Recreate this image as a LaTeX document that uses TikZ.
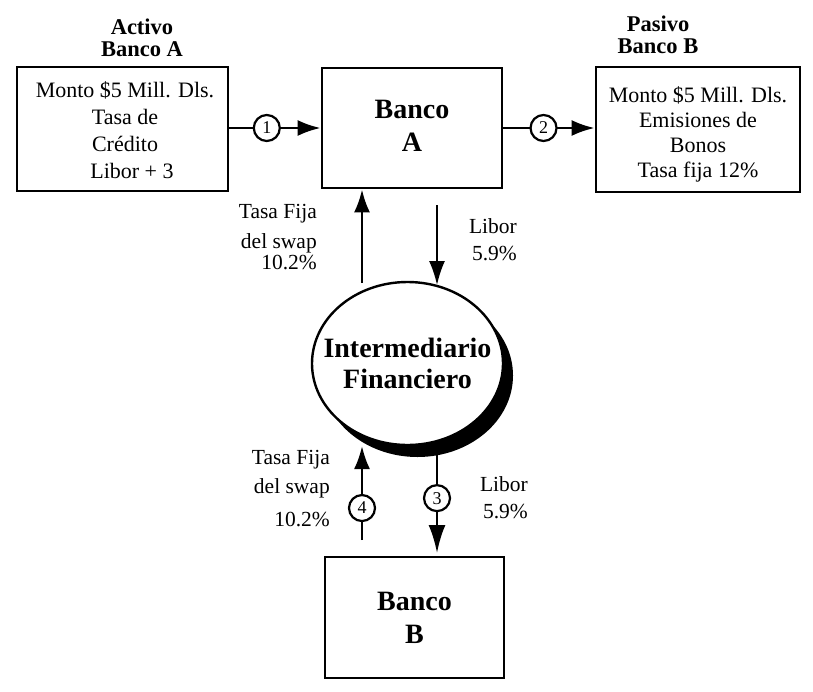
\documentclass[tikz,border=0pt]{standalone}
\usepackage{fontspec}
\setmainfont{Liberation Serif}
\usetikzlibrary{arrows.meta,shapes.geometric}
\begin{document}
\begin{tikzpicture}[x=1pt,y=-1pt,
 box/.style={draw,line width=2.8pt,inner sep=0pt},
 num/.style={draw,circle,line width=2.2pt,fill=white,inner sep=0pt,minimum size=26pt,font=\fontsize{18}{18}\selectfont},
 flow/.style={line width=2.6pt,-{Latex[length=23pt,width=16pt]}},
 longflow/.style={line width=2.6pt,-{Latex[length=28pt,width=17pt]}},
 thinflow/.style={line width=1.8pt,-{Latex[length=24pt,width=16pt]}},
 txt/.style={font=\fontsize{22}{27}\selectfont,align=center,inner sep=0pt},
 ttl/.style={font=\bfseries\fontsize{22.5}{22}\selectfont,align=center,inner sep=0pt},
 big/.style={font=\bfseries\fontsize{28}{33}\selectfont,align=center,inner sep=0pt},
 lbl/.style={font=\fontsize{21.5}{27}\selectfont,align=right,inner sep=0pt}]
\useasboundingbox (0,0) rectangle (813,691);

% titles
\node[ttl] (tA) at (142,37.5) {Activo\\Banco A};
\node[ttl] (tB) at (658,34.5) {Pasivo\\Banco B};

% boxes
\node[box,minimum width=211pt,minimum height=124pt] (activo) at (122.5,129) {};
\node[txt] (activoT) at (125,130) {Monto \$5 Mill. Dls.\\Tasa de\\Crédito\\\hspace*{14pt}Libor + 3};

\node[box,minimum width=180pt,minimum height=120pt] (bancoA) at (412,128) {};
\node[big] (bancoAT) at (412,126) {Banco\\A};

\node[box,minimum width=204pt,minimum height=125pt] (pasivo) at (698,129.5) {};
\node[txt,font=\fontsize{22}{25}\selectfont] (pasivoT) at (698,134.5) {Monto \$5 Mill. Dls.\\Emisiones de\\Bonos\\Tasa fija 12\%};

\node[box,minimum width=179pt,minimum height=121pt] (bancoB) at (414.5,617.5) {};
\node[big] (bancoBT) at (414.5,617.5) {Banco\\B};

% intermediary ellipse with shadow
\node[ellipse,fill=black,minimum width=191pt,minimum height=163pt,inner sep=0pt] (shadow) at (417.5,375.5) {};
\node[ellipse,draw,line width=2.4pt,fill=white,minimum width=191pt,minimum height=163pt,inner sep=0pt] (inter) at (407.5,363.5) {};
\node[font=\bfseries\fontsize{28}{31}\selectfont,align=center,inner sep=0pt] (interT) at (inter.center) {Intermediario\\Financiero};

% horizontal flows
\draw[flow] (activo.east |- bancoA.west) -- (bancoA.west) node[num,pos=0.41] (c1) {1};
\draw[flow] (bancoA.east) -- (bancoA.east -| pasivo.west) node[num,pos=0.44] (c2) {2};

% upper vertical flows
\coordinate (u1) at (362,283);
\draw[flow] (u1) -- (u1 |- bancoA.south);
\coordinate (d1) at (437,205);
\coordinate (d1e) at (437,285);
\draw[thinflow] (d1) -- (d1e);

% lower vertical flows
\coordinate (u2) at (362,540);
\coordinate (u2e) at (362,446);
\draw[flow] (u2) -- (u2e) node[num,pos=0.34] (c4) {4};
\coordinate (d2) at (437,455);
\coordinate (d2e) at (437,553);
\draw[longflow] (d2) -- (d2e) node[num,pos=0.44] (c3) {3};

% labels
\node[lbl,anchor=east] (l1) at (317,237.5) {Tasa Fija\\[3pt]del swap\\[-6pt]10.2\%};
\node[lbl,anchor=east] (l2) at (517,240) {Libor\\5.9\%};
\node[lbl,anchor=east] (l3) at (330,489) {Tasa Fija\\[2pt]del swap\\[6pt]10.2\%};
\node[lbl,anchor=east] (l4) at (528,498) {Libor\\5.9\%};
\end{tikzpicture}
\end{document}
